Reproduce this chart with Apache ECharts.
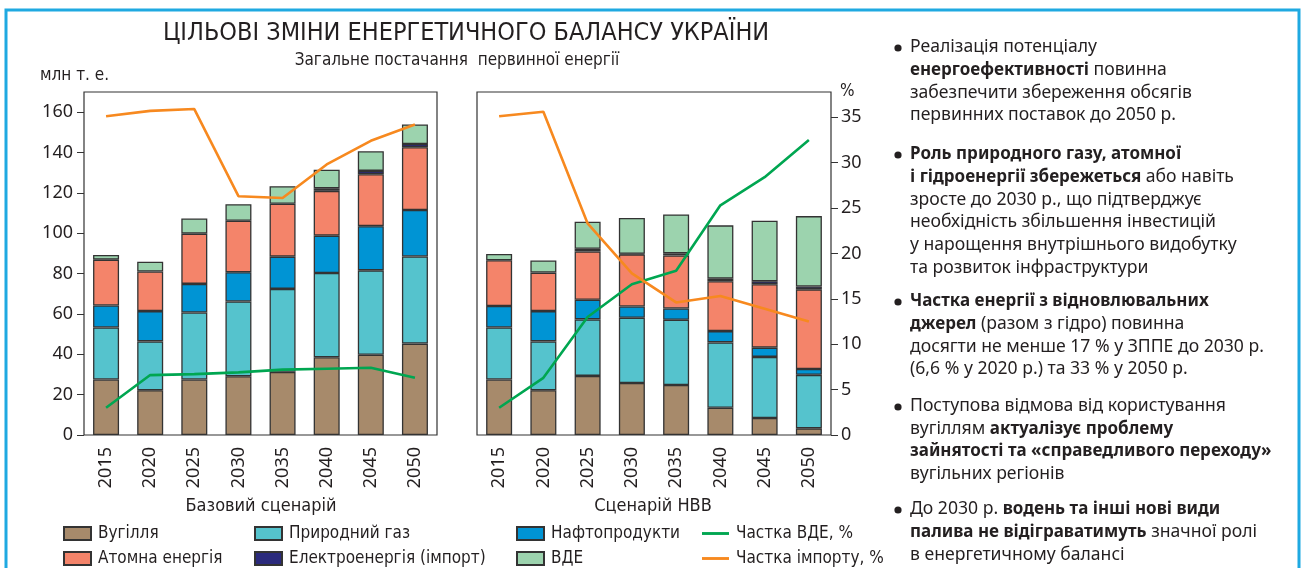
<!DOCTYPE html>
<html>
<head>
<meta charset="utf-8">
<script src="https://cdn.jsdelivr.net/npm/echarts@6/dist/echarts.min.js"></script>
<style>
	html,body{margin:0;padding:0;background:#fff;}
	#chart{width:1306px;height:568px;}
</style>
</head>
<body>
<div id="chart"></div>
<script>
	// роки
	var years = ['2015','2020','2025','2030','2035','2040','2045','2050'];
	// шкали
	var mlnTicks = [0,20,40,60,80,100,120,140,160];
	var pctTicks = [0,5,10,15,20,25,30,35];

	// Базовий сценарій, млн т. н. е.
	var baseCoal    = [27.5, 22.2, 27.5, 29.1, 31.3, 38.5, 39.8, 45.3];
	var baseGas     = [25.8, 24.2, 33.2, 37.1, 41.1, 41.8, 41.8, 43.2];
	var baseOil     = [10.9, 15.0, 14.2, 14.5, 16.0, 18.5, 21.9, 23.0];
	var baseNuclear = [22.7, 19.6, 24.9, 25.5, 26.2, 22.2, 25.7, 31.1];
	var baseElec    = [0, 0, 0, 0, 0, 1.3, 1.7, 1.6];
	var baseRes     = [2.3, 4.9, 7.5, 8.2, 8.7, 9.2, 9.7, 9.7];
	var baseResShare    = [3.0, 6.6, 6.7, 6.9, 7.2, 7.3, 7.4, 6.3];
	var baseImportShare = [35.1, 35.7, 35.9, 26.3, 26.1, 29.8, 32.4, 34.2];

	// Сценарій НВВ
	var hvvCoal    = [27.5, 22.2, 29.3, 25.8, 24.8, 13.5, 8.4, 3.3];
	var hvvGas     = [25.8, 24.2, 28.0, 32.3, 32.3, 32.4, 30.3, 26.5];
	var hvvOil     = [10.6, 15.0, 9.7, 5.6, 5.6, 5.6, 4.6, 2.9];
	var hvvNuclear = [22.7, 19.1, 24.0, 25.8, 26.3, 24.7, 31.4, 39.5];
	var hvvElec    = [0, 0, 1.3, 0.3, 1.0, 1.3, 1.5, 1.4];
	var hvvRes     = [3.1, 6.0, 13.4, 17.8, 19.3, 26.4, 30.0, 34.9];
	var hvvResShare    = [3.0, 6.3, 13.0, 16.6, 18.1, 25.3, 28.4, 32.5];
	var hvvImportShare = [35.1, 35.6, 23.3, 17.8, 14.6, 15.3, 13.9, 12.5];

	var names = ['Вугілля','Природний газ','Нафтопродукти','Атомна енергія','Електроенергія (імпорт)','ВДЕ'];
	var colors = ['#a78a6b','#55c3cd','#0094d4','#f4846a','#2b2a7c','#9cd3ae'];
	var lineNames = ['Частка ВДЕ, %','Частка імпорту, %'];
	var lineColors = ['#00a651','#f7891f'];

	var notes = [
		['Реалізація потенціалу','**енергоефективності** повинна','забезпечити збереження обсягів','первинних поставок до 2050 р.'],
		['**Роль природного газу, атомної**','**і гідроенергії збережеться** або навіть','зросте до 2030 р., що підтверджує','необхідність збільшення інвестицій','у нарощення внутрішнього видобутку','та розвиток інфраструктури'],
		['**Частка енергії з відновлювальних**','**джерел** (разом з гідро) повинна','досягти не менше 17 % у ЗППЕ до 2030 р.','(6,6 % у 2020 р.) та 33 % у 2050 р.'],
		['Поступова відмова від користування','вугіллям **актуалізує проблему**','**зайнятості та «справедливого переходу»**','вугільних регіонів'],
		['До 2030 р. **водень та інші нові види**','**палива не відіграватимуть** значної ролі','в енергетичному балансі']
	];
	var noteTop = [47, 154, 301, 406, 509];

	var narrow = "'Liberation Sans Narrow','DejaVu Sans Condensed',sans-serif";
	var bodyFont = "'Noto Sans',sans-serif";
	var mlnMax = 170;
	var pctMax = mlnMax / 4.5;

	function noZero(arr){
		return arr.map(function(v){ return v === 0 ? '-' : v; });
	}

	function barSeries(sets, xi, yi, stack){
		return sets.map(function(d, i){
			return {
				name: names[i], type: 'bar', stack: stack,
				xAxisIndex: xi, yAxisIndex: yi,
				barWidth: 26,
				itemStyle: {color: colors[i], borderColor: '#333', borderWidth: 1.3},
				emphasis: {disabled: true},
				data: noZero(d)
			};
		});
	}
	function lineSeries(sets, xi, yi){
		return sets.map(function(d, i){
			return {
				name: lineNames[i], type: 'line', xAxisIndex: xi, yAxisIndex: yi,
				symbol: 'none', z: 5,
				lineStyle: {color: lineColors[i], width: 2.6},
				itemStyle: {color: lineColors[i]},
				data: d
			};
		});
	}

	function richLine(s){
		var out = '';
		var parts = s.split('**');
		for(var i=0;i<parts.length;i++){
			if(parts[i] === '') continue;
			out += (i % 2 === 1 ? '{b|' : '{n|') + parts[i] + '}';
		}
		return out;
	}

	var graphics = [
		{type:'polyline', shape:{points:[[6,568],[6,10],[1299,10],[1299,568]]}, style:{stroke:'#1fa9e1', lineWidth:3, fill:null}},
		{type:'text', x:466, y:33, style:{text:'ЦІЛЬОВІ ЗМІНИ ЕНЕРГЕТИЧНОГО БАЛАНСУ УКРАЇНИ', fontFamily:narrow, fontSize:25, fill:'#231f20', align:'center', verticalAlign:'middle'}},
		{type:'text', x:457, y:61, style:{text:'Загальне постачання  первинної енергії', fontFamily:narrow, fontSize:17, fill:'#231f20', align:'center', verticalAlign:'middle'}},
		{type:'text', x:40, y:76, style:{text:'млн т. е.', fontFamily:narrow, fontSize:17, fill:'#231f20', align:'left', verticalAlign:'middle'}},
		{type:'text', x:840, y:92, style:{text:'%', fontFamily:narrow, fontSize:17, fill:'#231f20', align:'left', verticalAlign:'middle'}},
		{type:'text', x:261, y:506, style:{text:'Базовий сценарій', fontFamily:narrow, fontSize:18, fill:'#231f20', align:'center', verticalAlign:'middle'}},
		{type:'text', x:653, y:506, style:{text:'Сценарій НВВ', fontFamily:narrow, fontSize:18, fill:'#231f20', align:'center', verticalAlign:'middle'}}
	];
	var rich = {
		n:{fontFamily:bodyFont, fontSize:17.6, fill:'#231f20'},
		b:{fontFamily:bodyFont, fontSize:17, fontWeight:'bold', fill:'#231f20'}
	};
	notes.forEach(function(para, p){
		graphics.push({type:'circle', shape:{cx:898, cy:noteTop[p]+1, r:3.6}, style:{fill:'#231f20'}});
		para.forEach(function(line, k){
			graphics.push({type:'text', x:910, y:noteTop[p] + k*22.8, style:{text:richLine(line), rich:rich, align:'left', verticalAlign:'middle'}});
		});
	});

	var yearAxis = function(gi){
		return {
			type:'category', gridIndex:gi, data:years,
			axisLine:{show:false}, axisTick:{show:false},
			axisLabel:{rotate:90, fontFamily:bodyFont, fontSize:18, color:'#231f20', margin:12}
		};
	};
	var lineIcon = 'path://M0,0L30,0L30,3.2L0,3.2Z';
	var legendBase = function(left, data){
		return {
			left:left, top:525, orient:'vertical', itemGap:8, itemWidth:27, itemHeight:13,
			padding:0, selectedMode:false,
			data:data.map(function(n){
				return {name:n, icon: lineNames.indexOf(n) >= 0 ? lineIcon : 'rect'};
			}),
			textStyle:{fontFamily:narrow, fontSize:17, color:'#231f20', lineHeight:15, padding:[0,0,0,2]}
		};
	};

	var option = {
		animation:false,
		legend:[
			legendBase(63, ['Вугілля','Атомна енергія']),
			legendBase(254, ['Природний газ','Електроенергія (імпорт)']),
			legendBase(516, ['Нафтопродукти','ВДЕ']),
			legendBase(702, ['Частка ВДЕ, %','Частка імпорту, %'])
		],
		grid:[
			{left:84, top:92, width:353, height:343, show:true, borderColor:'#333', borderWidth:1.2},
			{left:477, top:92, width:354, height:343, show:true, borderColor:'#333', borderWidth:1.2}
		],
		xAxis:[yearAxis(0), yearAxis(1)],
		yAxis:[
			{type:'value', gridIndex:0, min:0, max:mlnMax, splitLine:{show:false}, axisLine:{show:false},
				axisTick:{show:true, length:7, customValues:mlnTicks, lineStyle:{color:'#333'}},
				axisLabel:{customValues:mlnTicks, fontFamily:bodyFont, fontSize:18, color:'#231f20', margin:11}},
			{type:'value', gridIndex:0, position:'right', min:0, max:pctMax, show:false, splitLine:{show:false}},
			{type:'value', gridIndex:1, min:0, max:mlnMax, show:false, splitLine:{show:false}},
			{type:'value', gridIndex:1, position:'right', min:0, max:pctMax, splitLine:{show:false}, axisLine:{show:false},
				axisTick:{show:true, length:7, customValues:pctTicks, lineStyle:{color:'#333'}},
				axisLabel:{customValues:pctTicks, fontFamily:bodyFont, fontSize:18, color:'#231f20', margin:10}}
		],
		graphic:graphics,
		series:[].concat(
			barSeries([baseCoal, baseGas, baseOil, baseNuclear, baseElec, baseRes], 0, 0, 'base'),
			lineSeries([baseResShare, baseImportShare], 0, 1),
			barSeries([hvvCoal, hvvGas, hvvOil, hvvNuclear, hvvElec, hvvRes], 1, 2, 'hvv'),
			lineSeries([hvvResShare, hvvImportShare], 1, 3)
		)
	};

	var mychart = echarts.init(document.getElementById('chart'));
	mychart.setOption(option);
</script>
</body>
</html>
